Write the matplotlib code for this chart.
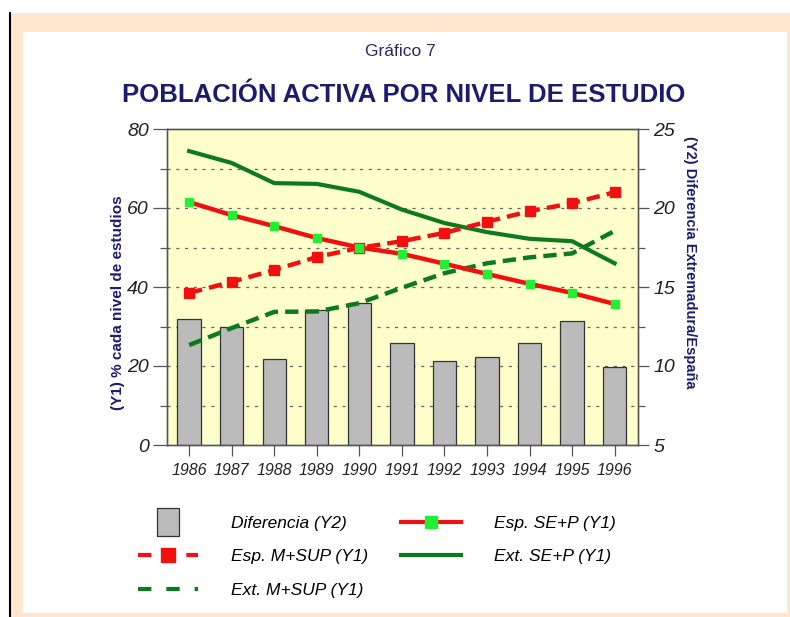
import matplotlib
matplotlib.use("Agg")
import matplotlib.pyplot as plt
from matplotlib.lines import Line2D
from matplotlib.patches import Rectangle

plt.rcParams['font.family'] = ['Liberation Sans', 'DejaVu Sans']

# data
years = ['1986', '1987', '1988', '1989', '1990', '1991',
         '1992', '1993', '1994', '1995', '1996']
diferencia = [13.0, 12.45, 10.45, 13.55, 13.98, 11.47, 10.33, 10.57, 11.47, 12.85, 9.95]
esp_msup = [38.5, 41.3, 44.3, 47.6, 49.9, 51.6, 53.7, 56.5, 59.2, 61.2, 64.0]
esp_sep = [61.5, 58.2, 55.4, 52.4, 50.0, 48.4, 45.9, 43.3, 40.8, 38.5, 35.7]
ext_sep = [74.4, 71.4, 66.3, 66.1, 64.1, 59.6, 56.2, 53.9, 52.2, 51.6, 46.0]
ext_msup = [25.3, 29.6, 33.7, 33.8, 35.9, 39.8, 43.5, 46.0, 47.5, 48.5, 54.2]

y1_ticks = [0, 20, 40, 60, 80]
y2_ticks = [5, 10, 15, 20, 25]

RED = '#F01010'
DKGREEN = '#0E7A20'
LTGREEN = '#22EE33'
NAVY = '#1C1C6E'

W, H = 790, 617
fig = plt.figure(figsize=(W / 100, H / 100), dpi=100)

# page frame
fig.patches.append(Rectangle((10 / W, 0), 1 - 10 / W, 1 - 13 / H, transform=fig.transFigure,
                             facecolor='#FFE6CC', edgecolor='none', zorder=-10))
fig.patches.append(Rectangle((23 / W, 4 / H), (787 - 23) / W, (613 - 32) / H, transform=fig.transFigure,
                             facecolor='white', edgecolor='none', zorder=-9))
fig.lines.append(Line2D([9.5 / W, 9.5 / W], [0, 1 - 13 / H], transform=fig.transFigure,
                        color='black', lw=1.5, zorder=-8))

rect = [167 / W, 1 - 445 / H, (638 - 167) / W, (445 - 129) / H]
ax = fig.add_axes(rect)
ax2 = ax.twinx()
ax3 = ax.twinx()

x = list(range(len(years)))

# primary axis: background + grid
ax.set_facecolor('#FFFFCC')
ax.set_ylim(0, 80)
ax.set_xlim(-0.52, 10.55)
ax.set_yticks(y1_ticks)
ax.set_yticks([10, 30, 50, 70], minor=True)
ax.set_yticklabels([str(v) for v in y1_ticks], fontsize=14, style='italic', color='#222222')
for v in range(10, 80, 10):
    ax.axhline(v, color='#666666', lw=0.9, ls=(0, (2.5, 4.5)), zorder=0)
ax.tick_params(axis='y', which='major', length=10, width=0.9, color='#555555', pad=3)
ax.tick_params(axis='y', which='minor', length=5, width=0.9, color='#555555')
ax.set_xticks(x)
ax.set_xticklabels(years, fontsize=11.5, style='italic', color='#222222')
ax.tick_params(axis='x', length=8, width=0.9, color='#555555', pad=5)

# bars on Y2
ax2.bar(x, [d - 5 for d in diferencia], bottom=5, width=0.55, color='#BBBBBB',
        edgecolor='#333333', linewidth=0.9, zorder=2)
ax2.set_ylim(5, 25)
ax2.set_yticks(y2_ticks)
ax2.set_yticks([7.5, 12.5, 17.5, 22.5], minor=True)
ax2.set_yticklabels([str(v) for v in y2_ticks], fontsize=14, style='italic', color='#222222')
ax2.tick_params(axis='y', which='major', length=8, width=0.9, color='#555555', pad=3)
ax2.tick_params(axis='y', which='minor', length=5, width=0.9, color='#555555')

# lines on Y1 scale
ax3.set_ylim(0, 80)
ax3.set_yticks([])
ax3.plot(x, ext_msup, color=DKGREEN, lw=3.2, ls=(0, (3, 1.6)), solid_capstyle='butt', zorder=3)
ax3.plot(x, ext_sep, color=DKGREEN, lw=3.0, zorder=3)
ax3.plot(x, esp_msup, color=RED, lw=3.2, ls=(0, (3, 1.6)), marker='s', markersize=7.5,
         markerfacecolor=RED, markeredgecolor=RED, zorder=4)
ax3.plot(x, esp_sep, color=RED, lw=3.2, marker='s', markersize=6,
         markerfacecolor=LTGREEN, markeredgecolor=LTGREEN, zorder=4)

for a in (ax, ax2, ax3):
    for s in a.spines.values():
        s.set_color('#555555')
        s.set_linewidth(0.9)

# titles
fig.text(400 / W, 1 - 52 / H, 'Gráfico 7', ha='center', va='center', fontsize=12.5, color='#2A2A66')
fig.text(404 / W, 1 - 95 / H, 'POBLACIÓN ACTIVA POR NIVEL DE ESTUDIO', ha='center', va='center',
         fontsize=18.5, fontweight='bold', color=NAVY)
fig.text(118 / W, 1 - 303 / H, '(Y1) % cada nivel de estudios', rotation=90, ha='center', va='center',
         fontsize=11, fontweight='bold', color=NAVY)
fig.text(690 / W, 1 - 262 / H, '(Y2) Diferencia Extremadura/España', rotation=270, ha='center',
         va='center', fontsize=10.5, fontweight='bold', color=NAVY)

# legend
box = [(-0.42, -0.5), (0.42, -0.5), (0.42, 0.5), (-0.42, 0.5), (-0.42, -0.5)]
handles = [
    Line2D([], [], ls='none', marker=box, markersize=19.5, markerfacecolor='#BBBBBB',
           markeredgecolor='#333333', markeredgewidth=0.9),
    Line2D([], [], color=RED, lw=3.0, ls=(0, (3.2, 2.6)), marker='s', markersize=10,
           markerfacecolor=RED, markeredgecolor=RED),
    Line2D([], [], color=DKGREEN, lw=3.0, ls=(0, (3.2, 3.6))),
    Line2D([], [], color=RED, lw=3.0, marker='s', markersize=9,
           markerfacecolor=LTGREEN, markeredgecolor=LTGREEN),
    Line2D([], [], color=DKGREEN, lw=3.0),
]
labels = ['Diferencia (Y2)', 'Esp. M+SUP (Y1)', 'Ext. M+SUP (Y1)',
          'Esp. SE+P (Y1)', 'Ext. SE+P (Y1)']
fig.legend(handles, labels, ncol=2, loc='upper left', bbox_to_anchor=(129 / W, 1 - 507 / H),
           frameon=False, borderpad=0, handlelength=3.5, handletextpad=1.9,
           columnspacing=1.85, labelspacing=1.05, numpoints=1,
           prop={'size': 12.5, 'style': 'italic'})

fig.savefig('out.png', dpi=100)
